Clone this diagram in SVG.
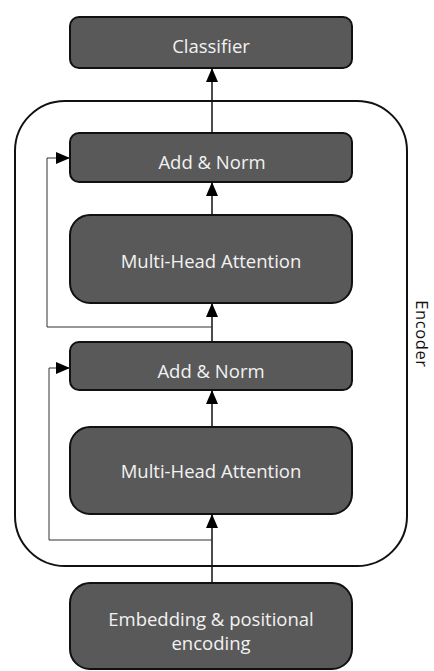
<svg xmlns="http://www.w3.org/2000/svg" width="434" height="671" viewBox="0 0 434 671">
  <style>
    .box { fill: #595959; stroke: #111; stroke-width: 2; }
    .label { fill: #f2f2f2; font-family: "Open Sans", "DejaVu Sans", sans-serif; font-size: 18.5px; text-anchor: middle; dominant-baseline: central; }
    .side { fill: #111; font-family: "Open Sans", "DejaVu Sans", sans-serif; font-size: 16.5px; text-anchor: middle; letter-spacing: 0.6px; }
    .flow { fill: none; stroke: #111; stroke-width: 1.5; }
    .skip { fill: none; stroke: #333; stroke-width: 1; }
    .frame { fill: none; stroke: #111; stroke-width: 2; }
  </style>
  <defs>
    <marker id="head" viewBox="0 0 14 12" refX="14" refY="6" markerWidth="14" markerHeight="12" markerUnits="userSpaceOnUse" orient="auto">
      <path d="M0,0 L14,6 L0,12 Z" fill="#000"/>
    </marker>
  </defs>
  <rect width="434" height="671" fill="#fff"/>

  <!-- encoder frame -->
  <g id="encoder">
    <rect class="frame" x="15" y="101" width="392" height="465" rx="50" ry="50"/>
    <!-- baseline on the left side of the rotated word, caps reaching right -->
    <text class="side" transform="translate(416 334) rotate(90)">Encoder</text>
  </g>

  <g id="classifier">
    <rect class="box" x="70" y="17" width="282" height="51" rx="9"/>
    <text class="label" x="211" y="45">Classifier</text>
  </g>
  <g id="addnorm2">
    <rect class="box" x="70" y="133" width="282" height="49" rx="9"/>
    <text class="label" x="212" y="161">Add &amp; Norm</text>
  </g>
  <g id="mha2">
    <rect class="box" x="70" y="215" width="282" height="88" rx="20"/>
    <text class="label" x="211" y="260">Multi-Head Attention</text>
  </g>
  <g id="addnorm1">
    <rect class="box" x="70" y="342" width="282" height="48" rx="9"/>
    <text class="label" x="211" y="370">Add &amp; Norm</text>
  </g>
  <g id="mha1">
    <rect class="box" x="70" y="427" width="282" height="87" rx="20"/>
    <text class="label" x="211" y="470">Multi-Head Attention</text>
  </g>
  <g id="embedding">
    <rect class="box" x="70" y="583" width="282" height="86" rx="20"/>
    <text class="label" x="211" y="618">Embedding &amp; positional</text>
    <text class="label" x="211" y="642">encoding</text>
  </g>

  <g id="connectors">
    <line class="flow" x1="212" y1="583" x2="212" y2="514" marker-end="url(#head)"/>
    <line class="flow" x1="212" y1="427" x2="212" y2="390" marker-end="url(#head)"/>
    <line class="flow" x1="212" y1="342" x2="212" y2="303" marker-end="url(#head)"/>
    <line class="flow" x1="212" y1="215" x2="212" y2="182" marker-end="url(#head)"/>
    <line class="flow" x1="212" y1="133" x2="212" y2="68" marker-end="url(#head)"/>
    <polyline class="skip" points="212,540 49,540 49,368 70,368" marker-end="url(#head)"/>
    <polyline class="skip" points="212,327 47,327 47,158 70,158" marker-end="url(#head)"/>
  </g>
</svg>
